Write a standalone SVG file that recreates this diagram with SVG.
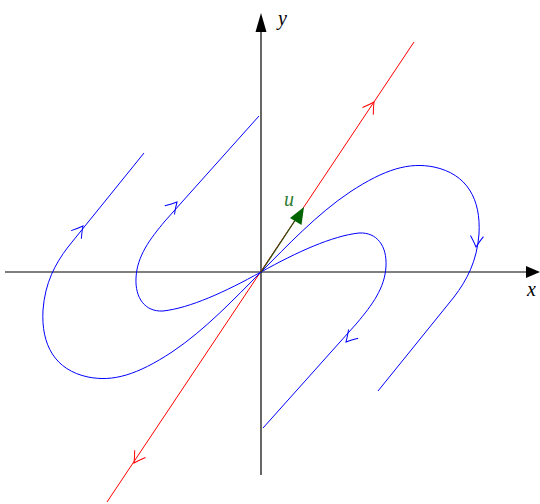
<svg xmlns="http://www.w3.org/2000/svg" width="540" height="504" viewBox="0 0 540 504">
<style>
.ax{stroke:#000;stroke-width:1.2;fill:none}
.bl{stroke:#0000ff;stroke-width:1;fill:none}
.rd{stroke:#ff0000;stroke-width:1;fill:none}
.lbl{font-family:"Liberation Serif","DejaVu Serif",serif;font-style:italic;font-size:20px}
</style>
<defs>
<path id="ah" d="M-11,-6.5 Q-5,-2.5 0,0 Q-5,2.5 -11,6.5" />
<path id="lo" d="M144,153 L68,247 C55,264 45,283 43,310 C41,345 55,370 88,377 C113,382 137,375 172,352 C205,330 235,298 261,272" />
<path id="li" d="M259,116 L165,221 C150,239 137,256 136,278 C135,298 145,312 163,311 C190,308 225,292 261,272" />
</defs>
<g id="axes">
<line class="ax" x1="5" y1="272" x2="528" y2="272"/>
<polygon points="526,266 540,272 526,278" fill="#000"/>
<line class="ax" x1="261" y1="475" x2="261" y2="30"/>
<polygon points="255.5,32 261,13 266.5,32" fill="#000"/>
<text class="lbl" x="527" y="296">x</text>
<text class="lbl" x="278" y="25">y</text>
</g>
<g id="connectors">
<g id="red-line">
<line class="rd" x1="107" y1="502" x2="414" y2="42"/>
<use href="#ah" class="rd" transform="translate(374,102) rotate(-56.3)"/>
<use href="#ah" class="rd" transform="translate(134,463) rotate(123.7)"/>
</g>
<g id="blue-left-outer">
<use href="#lo" class="bl"/>
<use href="#ah" class="bl" transform="translate(83,226) rotate(-51.9)"/>
</g>
<g id="blue-left-inner">
<use href="#li" class="bl"/>
<use href="#ah" class="bl" transform="translate(177,202) rotate(-47.9)"/>
</g>
<g id="blue-right-outer">
<use href="#lo" class="bl" transform="rotate(180,261,272)"/>
<use href="#ah" class="bl" transform="translate(476,247) rotate(95)"/>
</g>
<g id="blue-right-inner">
<use href="#li" class="bl" transform="rotate(180,261,272)"/>
<use href="#ah" class="bl" transform="translate(346,342) rotate(132.1)"/>
</g>
</g>
<g id="vector-u">
<line x1="261" y1="272" x2="296" y2="219" stroke="#2f4f0f" stroke-width="1.3"/>
<polygon points="304,207 301.5,225 290,218" fill="#006400"/>
<text class="lbl" x="284" y="206" fill="#2e7d32">u</text>
</g>
</svg>
